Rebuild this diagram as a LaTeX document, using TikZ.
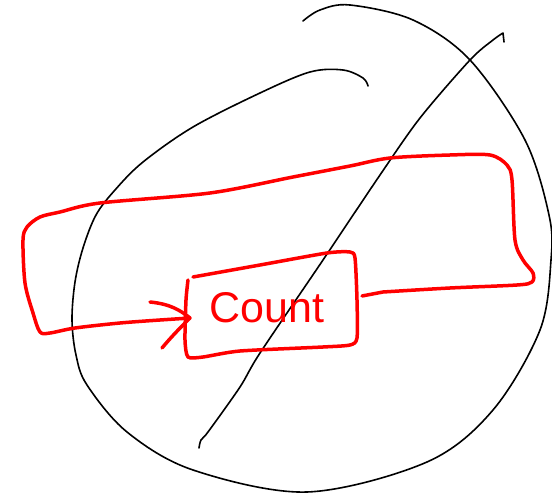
\documentclass[tikz,border=0pt]{standalone}
\usepackage{fontspec}
\newfontfamily\handfont{Liberation Sans}

\begin{document}
\begin{tikzpicture}[x=1pt, y=-1pt, >=stealth,
  ink/.style={black, line width=1.6pt, line cap=round, line join=round},
  marker/.style={red, line width=3.5pt, line cap=round, line join=round}]
  % Sketch: a counter with a feedback loop, crossed out

  \useasboundingbox (0,0) rectangle (552,497);

  % Anchors
  \coordinate (boxin) at (190,318);
  \coordinate (boxout) at (362,296);
  \coordinate (barbA) at (150,302);
  \coordinate (barbB) at (162,348);

  % Big outline
  \draw[ink] plot[smooth, tension=0.55] coordinates {(368,86) (363,78) (343,70) (310,72) (260,93) (193,127) (143,162) (115,190) (96,215) (83,248) (75,282) (72,320) (76,355) (87,385) (127,432) (193,470) (307,492) (427,462) (493,410) (540,330) (551,260) (549,215) (525,140) (470,60) (413,20) (350,5) (320,10) (303,21)};

  % Cross stroke
  \draw[ink] plot[smooth, tension=0.5] coordinates {(199,448) (201,440) (208,432) (240,387) (260,353) (323,260) (380,175) (420,118) (470,60) (493,40) (503,33)} -- (504,42);

  % Box
  \draw[marker] plot[smooth, tension=0.4] coordinates {(193,277) (260,265) (327,253) (350,252) (355,258) (357,300) (357,338) (350,345) (323,347) (240,351) (203,357) (188,357) (185,340) (186,300) (188,280)};
  \node[red, font=\handfont\fontsize{43}{43}\selectfont] (count) at (267,308) {Count};

  % Loop back into the box
  \draw[marker] (boxout) -- plot[smooth, tension=0.5] coordinates {(383,292) (450,288) (517,285) (532,282) (533,273) (523,260) (515,240) (512,180) (507,165) (490,155) (450,155) (390,158) (350,166) (293,177) (210,193) (100,203) (60,212) (40,217) (27,227) (23,240) (25,283) (33,313) (40,332) (50,333) (75,328) (120,323) (160,320)} -- (boxin);
  \draw[marker] (barbA) .. controls (170,304) and (180,310) .. (boxin);
  \draw[marker] (barbB) .. controls (172,336) and (182,326) .. (boxin);
\end{tikzpicture}
\end{document}
